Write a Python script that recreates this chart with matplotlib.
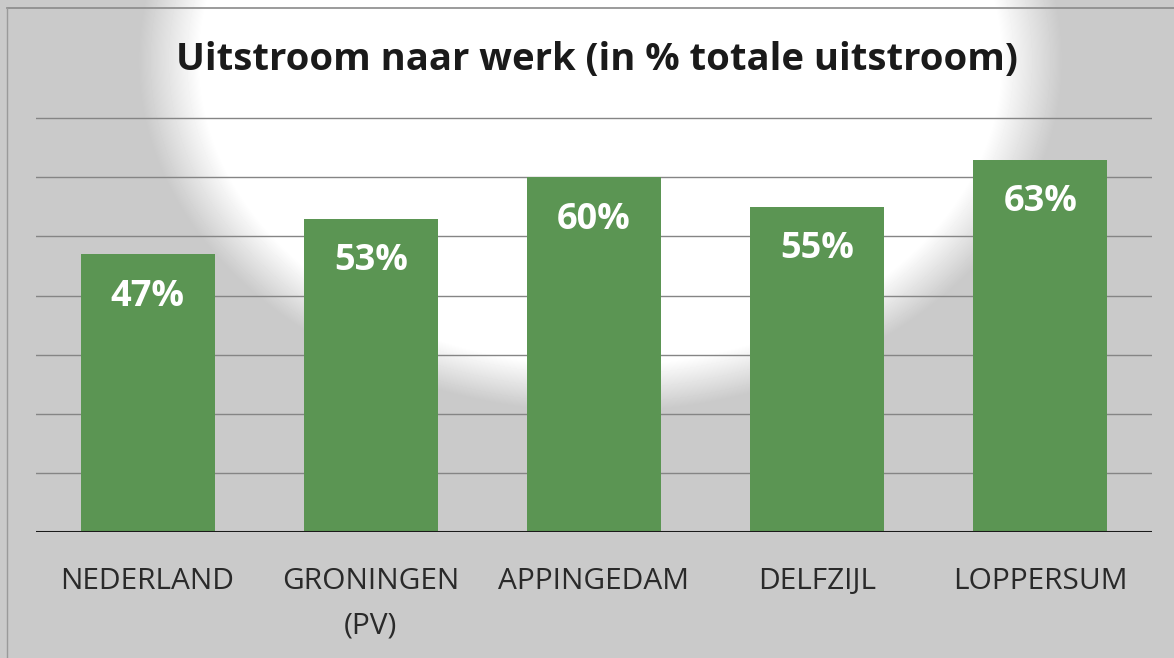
import matplotlib
matplotlib.use("Agg")
import matplotlib.pyplot as plt
import numpy as np
from matplotlib.lines import Line2D

categories = ["NEDERLAND", "GRONINGEN\n(PV)", "APPINGEDAM", "DELFZIJL", "LOPPERSUM"]
values = [47, 53, 60, 55, 63]
value_labels = ["47%", "53%", "60%", "55%", "63%"]
title = "Uitstroom naar werk (in % totale uitstroom)"

plt.rcParams['font.family'] = ['Open Sans', 'DejaVu Sans']

W, H = 1174, 658
fig = plt.figure(figsize=(W / 100, H / 100), dpi=100)
fig.patch.set_facecolor('#cbcbcb')

# background: grey with a white blotch at the upper centre
bg = fig.add_axes([0, 0, 1, 1], zorder=-10)
yy, xx = np.mgrid[0:H, 0:W]
d = np.sqrt(((xx - 600) / 440.0) ** 2 + ((yy - 60) / 335.0) ** 2)
white = np.clip((1.05 - d) / 0.14, 0, 1)
base = 0.79
img = base + (1.0 - base) * white
bg.imshow(img, cmap='gray', vmin=0, vmax=1, extent=[0, W, H, 0], aspect='auto')
bg.set_xlim(0, W)
bg.set_ylim(H, 0)
bg.axis('off')
# frame lines of the scan
fig.add_artist(Line2D([7 / W, 1], [1 - 8 / H, 1 - 8 / H], color='#8a8a8a', lw=1.2))
fig.add_artist(Line2D([7 / W, 7 / W], [0, 1 - 8 / H], color='#9a9a9a', lw=1.0))

ax = fig.add_axes([36 / W, 1 - 532 / H, (1152 - 36) / W, (532 - 59) / H])
ax.set_facecolor('none')
x = np.arange(len(categories))
ax.bar(x, values, width=0.6, color='#5b9553', zorder=3)
ax.set_xlim(-0.5, len(categories) - 0.5)
ax.set_ylim(0, 80)
ax.set_yticks(np.arange(10, 80, 10))
for yv in np.arange(10, 80, 10):
    ax.axhline(yv, color='#858585', lw=1.0, zorder=1)
ax.axhline(0, color='#1a1a1a', lw=2.2, zorder=4)
for s in ax.spines.values():
    s.set_visible(False)
ax.tick_params(axis='y', left=False, labelleft=False)
ax.tick_params(axis='x', length=0, pad=25)
ax.set_xticks(x)
ax.set_xticklabels(categories, fontsize=21.5, color='#2a2a2a', linespacing=1.7)
for xi, v, lab in zip(x, values, value_labels):
    ax.text(xi, v - 7.2, lab, ha='center', va='center', color='white',
            fontsize=26, fontweight='bold')

fig.text(597 / W, 1 - 60 / H, title, ha='center', va='center', fontsize=27.5,
         fontweight='bold', color='#1a1a1a')

fig.savefig('out.png', dpi=100)
